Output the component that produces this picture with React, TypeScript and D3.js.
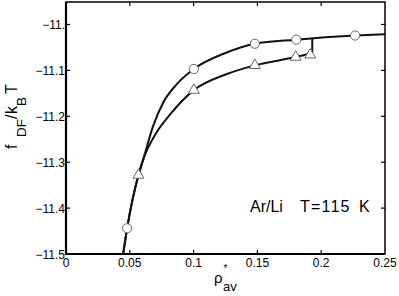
import { useRef, useEffect } from 'react';
import * as d3 from 'd3';

// tick values and their labels, as printed on the figure
const xTicks = [0, 0.05, 0.1, 0.15, 0.2, 0.25];
const xTickLabels = ['0', '0.05', '0.1', '0.15', '0.2', '0.25'];
const yTicks = [-11.5, -11.4, -11.3, -11.2, -11.1, -11.0];
const yTickLabels = ['\u221211.5', '\u221211.4', '\u221211.3', '\u221211.2', '\u221211.1', '\u221211.'];

// markers (rho_av, f/kT)
const circlePts: [number, number][] = [
  [0.0479, -11.444],
  [0.1002, -11.097],
  [0.148, -11.042],
  [0.1805, -11.033],
  [0.2266, -11.024],
];
const trianglePts: [number, number][] = [
  [0.0568, -11.328],
  [0.1002, -11.143],
  [0.148, -11.089],
  [0.18, -11.071],
  [0.1914, -11.066],
];

// curves
const upperCurve: [number, number][] = [
  [0.0448, -11.5],
  [0.0479, -11.444],
  [0.0568, -11.328],
  [0.0604, -11.295],
  [0.0682, -11.222],
  [0.076, -11.171],
  [0.0865, -11.131],
  [0.1002, -11.097],
  [0.125, -11.062],
  [0.148, -11.042],
  [0.1805, -11.033],
  [0.2266, -11.024],
  [0.25, -11.021],
];
const lowerCurve: [number, number][] = [
  [0.0448, -11.5],
  [0.0479, -11.444],
  [0.0568, -11.328],
  [0.0604, -11.295],
  [0.0708, -11.236],
  [0.0813, -11.197],
  [0.1002, -11.143],
  [0.125, -11.109],
  [0.148, -11.089],
  [0.18, -11.071],
  [0.193, -11.062],
];
const jumpLine: [number, number][] = [
  [0.193, -11.062],
  [0.193, -11.031],
];

export default function App() {
  const ref = useRef<SVGSVGElement>(null);

  useEffect(() => {
    if (!ref.current) return;
    const width = 399;
    const height = 296;
    const left = 66, right = 385, top = 2, bottom = 254;
    const font = '"Liberation Sans", Arial, Helvetica, sans-serif';

    const svg = d3.select(ref.current)
      .attr('width', width)
      .attr('height', height)
      .attr('font-family', font);
    svg.selectAll('*').remove();

    svg.append('rect').attr('width', width).attr('height', height).attr('fill', '#fff');

    const x = d3.scaleLinear().domain([0, 0.25]).range([left, right]);
    const y = d3.scaleLinear().domain([-11.5, -10.951]).range([bottom, top]);

    const line = d3.line<[number, number]>()
      .x(d => x(d[0]))
      .y(d => y(d[1]))
      .curve(d3.curveMonotoneX);

    [upperCurve, lowerCurve].forEach(c => {
      svg.append('path')
        .datum(c)
        .attr('fill', 'none')
        .attr('stroke', '#111')
        .attr('stroke-width', 2)
        .attr('d', line);
    });

    svg.append('path')
      .datum(jumpLine)
      .attr('fill', 'none')
      .attr('stroke', '#111')
      .attr('stroke-width', 2)
      .attr('d', d3.line<[number, number]>().x(d => x(d[0])).y(d => y(d[1])));

    // frame
    svg.append('rect')
      .attr('x', left).attr('y', top)
      .attr('width', right - left).attr('height', bottom - top)
      .attr('fill', 'none').attr('stroke', '#000').attr('stroke-width', 1.5);
    svg.append('path')
      .attr('d', `M${left},${top}V${bottom}H${right}`)
      .attr('fill', 'none').attr('stroke', '#000').attr('stroke-width', 2.2);

    // ticks (inward, all four sides)
    const tl = 4;
    xTicks.slice(1, -1).forEach(t => {
      svg.append('line').attr('x1', x(t)).attr('x2', x(t)).attr('y1', bottom).attr('y2', bottom - tl)
        .attr('stroke', '#000').attr('stroke-width', 1.2);
      svg.append('line').attr('x1', x(t)).attr('x2', x(t)).attr('y1', top).attr('y2', top + tl)
        .attr('stroke', '#000').attr('stroke-width', 1.2);
    });
    yTicks.slice(1).forEach(t => {
      svg.append('line').attr('x1', left).attr('x2', left + tl).attr('y1', y(t)).attr('y2', y(t))
        .attr('stroke', '#000').attr('stroke-width', 1.2);
      svg.append('line').attr('x1', right).attr('x2', right - tl).attr('y1', y(t)).attr('y2', y(t))
        .attr('stroke', '#000').attr('stroke-width', 1.2);
    });

    svg.selectAll('text.xt')
      .data(xTicks)
      .join('text')
      .attr('class', 'xt')
      .attr('x', d => x(d))
      .attr('y', 267)
      .attr('text-anchor', 'middle')
      .attr('font-size', 12)
      .text((d, i) => xTickLabels[i]);

    svg.selectAll('text.yt')
      .data(yTicks)
      .join('text')
      .attr('class', 'yt')
      .attr('x', 65)
      .attr('y', d => y(d) + 4.5)
      .attr('text-anchor', 'end')
      .attr('font-size', 12)
      .text((d, i) => yTickLabels[i]);

    // markers
    svg.selectAll('circle.c')
      .data(circlePts)
      .join('circle')
      .attr('class', 'c')
      .attr('cx', d => x(d[0]))
      .attr('cy', d => y(d[1]))
      .attr('r', 4.6)
      .attr('fill', '#fff')
      .attr('stroke', '#666')
      .attr('stroke-width', 1);

    const tri = d3.symbol().type(d3.symbolTriangle).size(52);
    svg.selectAll('path.t')
      .data(trianglePts)
      .join('path')
      .attr('class', 't')
      .attr('transform', d => `translate(${x(d[0])},${y(d[1])})`)
      .attr('d', tri())
      .attr('fill', '#fff')
      .attr('stroke', '#666')
      .attr('stroke-width', 1);

    // annotation
    svg.append('text').attr('x', 250).attr('y', 212).attr('font-size', 16).text('Ar/Li');
    svg.append('text').attr('x', 300).attr('y', 212).attr('font-size', 16)
      .attr('letter-spacing', 1.2).text('T=115');
    svg.append('text').attr('x', 359).attr('y', 212).attr('font-size', 16).text('K');

    // x label: rho*_av
    svg.append('text').attr('x', 214).attr('y', 283).attr('font-size', 15).text('\u03c1');
    svg.append('text').attr('x', 223.5).attr('y', 272).attr('font-size', 10).text('*');
    svg.append('text').attr('x', 223).attr('y', 291).attr('font-size', 13).text('av');

    // y label: f_DF/k_B T
    const yl = svg.append('g').attr('transform', 'translate(17,150) rotate(-90)');
    yl.append('text').attr('x', 1).attr('y', 0).attr('font-size', 16).text('f');
    yl.append('text').attr('x', 13).attr('y', 8.5).attr('font-size', 13.5).text('DF');
    yl.append('text').attr('x', 31).attr('y', 0).attr('font-size', 16).text('/');
    yl.append('text').attr('x', 36).attr('y', 0).attr('font-size', 16).text('k');
    yl.append('text').attr('x', 44).attr('y', 8.5).attr('font-size', 13.5).text('B');
    yl.append('text').attr('x', 56).attr('y', 0).attr('font-size', 16).text('T');
  }, []);

  return (
    <div style={{ position: 'absolute', left: 0, top: 0 }}>
      <svg ref={ref} style={{ display: 'block' }}></svg>
    </div>
  );
}
